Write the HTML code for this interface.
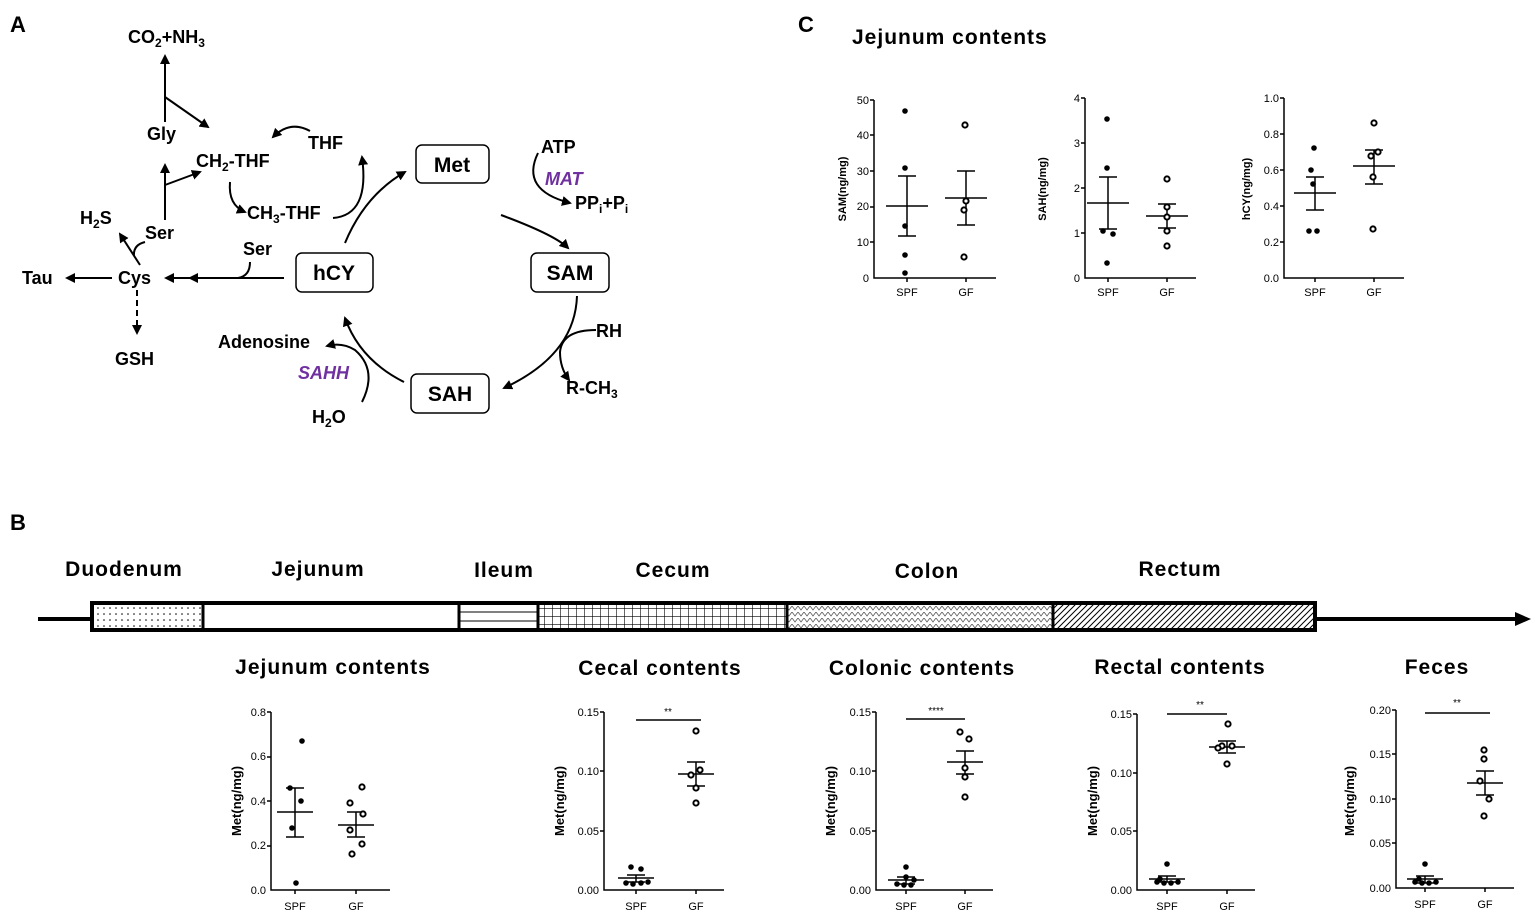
<!DOCTYPE html>
<html><head><meta charset="utf-8"><style>
html,body{margin:0;padding:0;background:#fff;width:1535px;height:913px;overflow:hidden}
svg{display:block;font-family:"Liberation Sans",Arial,sans-serif}
.L{font-weight:bold;font-size:18px}
.T{font-size:11px}
.ax{stroke:#000;stroke-width:1.5;fill:none}
.f{fill:#000}
.o{fill:#fff;stroke:#000;stroke-width:2}
.h{font-weight:bold;font-size:21px;letter-spacing:1px}
.yl{font-weight:bold;font-size:13px}
</style></head><body>
<svg width="1535" height="913" viewBox="0 0 1535 913">
<defs>
<marker id="ah" markerWidth="10" markerHeight="10" refX="8" refY="5" orient="auto" markerUnits="userSpaceOnUse"><path d="M0,0 L10,5 L0,10 z" fill="#000"/></marker>
<pattern id="pd" width="6" height="6" patternUnits="userSpaceOnUse"><circle cx="2" cy="2" r="0.8" fill="#000"/></pattern>
<pattern id="pg" width="8" height="8" patternUnits="userSpaceOnUse"><path d="M0,0 V8 M0,0 H8" stroke="#000" stroke-width="1.2"/></pattern>
<pattern id="px" width="6" height="6" patternUnits="userSpaceOnUse"><path d="M0,0 L3,4 L6,0" stroke="#555" stroke-width="0.8" fill="none"/></pattern>
<pattern id="pl" width="6" height="6" patternUnits="userSpaceOnUse"><path d="M0,6 L6,0 M-1,1 L1,-1 M5,7 L7,5" stroke="#000" stroke-width="1"/></pattern>
</defs>
<g font-weight="bold" font-size="22"><text x="10" y="32">A</text><text x="10" y="530">B</text><text x="798" y="32">C</text></g>

<!-- Panel A -->
<g class="L" fill="#000">
<text x="128" y="43">CO<tspan font-size="12" dy="4">2</tspan><tspan dy="-4">+NH</tspan><tspan font-size="12" dy="4">3</tspan></text>
<text x="147" y="140">Gly</text>
<text x="196" y="167">CH<tspan font-size="12" dy="4">2</tspan><tspan dy="-4">-THF</tspan></text>
<text x="308" y="149">THF</text>
<text x="247" y="219">CH<tspan font-size="12" dy="4">3</tspan><tspan dy="-4">-THF</tspan></text>
<text x="145" y="239">Ser</text>
<text x="80" y="224">H<tspan font-size="12" dy="4">2</tspan><tspan dy="-4">S</tspan></text>
<text x="22" y="284">Tau</text>
<text x="118" y="284">Cys</text>
<text x="115" y="365">GSH</text>
<text x="243" y="255">Ser</text>
<text x="541" y="153">ATP</text>
<text x="545" y="185" fill="#7030a0" font-style="italic">MAT</text>
<text x="575" y="209">PP<tspan font-size="12" dy="4">i</tspan><tspan dy="-4">+P</tspan><tspan font-size="12" dy="4">i</tspan></text>
<text x="596" y="337">RH</text>
<text x="566" y="394">R-CH<tspan font-size="12" dy="4">3</tspan></text>
<text x="218" y="348">Adenosine</text>
<text x="298" y="379" fill="#7030a0" font-style="italic">SAHH</text>
<text x="312" y="423">H<tspan font-size="12" dy="4">2</tspan><tspan dy="-4">O</tspan></text>
</g>
<g fill="#fff" stroke="#000" stroke-width="1.5">
<rect x="416" y="145" width="73" height="38" rx="6"/>
<rect x="531" y="253" width="78" height="39" rx="6"/>
<rect x="296" y="253" width="77" height="39" rx="6"/>
<rect x="411" y="374" width="78" height="39" rx="6"/>
</g>
<g font-weight="bold" font-size="21" text-anchor="middle">
<text x="452" y="172">Met</text><text x="570" y="280">SAM</text><text x="334" y="280">hCY</text><text x="450" y="401">SAH</text>
</g>
<g stroke="#000" stroke-width="2" fill="none">
<path d="M165,122 V56" marker-end="url(#ah)"/>
<path d="M165,97 L208,127" marker-end="url(#ah)"/>
<path d="M165,220 V165" marker-end="url(#ah)"/>
<path d="M165,185 L200,172" marker-end="url(#ah)"/>
<path d="M140,265 L120,234" marker-end="url(#ah)"/>
<path d="M145,242 Q133,245 134,256"/>
<path d="M112,278 H67" marker-end="url(#ah)"/>
<path d="M137,290 V333" stroke-dasharray="6,4" marker-end="url(#ah)"/>
<path d="M284,278 H166" marker-end="url(#ah)"/>
<path d="M200,278 H190" marker-end="url(#ah)"/>
<path d="M250,262 Q250,276 238,278"/>
<path d="M310,131 Q290,120 273,137" marker-end="url(#ah)"/>
<path d="M230,182 Q228,205 245,212" marker-end="url(#ah)"/>
<path d="M333,218 Q370,215 362,157" marker-end="url(#ah)"/>
<path d="M345,243 Q365,195 405,172" marker-end="url(#ah)"/>
<path d="M501,215 Q555,235 568,248" marker-end="url(#ah)"/>
<path d="M538,153 Q520,190 570,203" marker-end="url(#ah)"/>
<path d="M577,296 Q575,355 504,388" marker-end="url(#ah)"/>
<path d="M596,330 Q562,330 560,352 Q560,368 569,380" marker-end="url(#ah)"/>
<path d="M404,382 Q360,360 345,318" marker-end="url(#ah)"/>
<path d="M362,402 Q378,370 355,350 Q342,342 327,346" marker-end="url(#ah)"/>
</g>

<!-- Panel B gut -->
<g class="h" text-anchor="middle">
<text x="124" y="576">Duodenum</text><text x="318" y="576">Jejunum</text><text x="504" y="577">Ileum</text><text x="673" y="577">Cecum</text><text x="927" y="578">Colon</text><text x="1180" y="576">Rectum</text>
</g>
<path d="M38,619 H92 M1315,619 H1518" stroke="#000" stroke-width="4"/>
<path d="M1515,612 L1531,619 L1515,626 z" fill="#000"/>
<rect x="92" y="603" width="111" height="27" fill="url(#pd)"/>
<rect x="459" y="603" width="79" height="27" fill="#fff"/>
<path d="M459,612 H538 M459,621 H538" stroke="#000" stroke-width="1"/>
<rect x="538" y="603" width="249" height="27" fill="url(#pg)"/>
<rect x="787" y="603" width="266" height="27" fill="url(#px)"/>
<rect x="1053" y="603" width="262" height="27" fill="url(#pl)"/>
<rect x="92" y="603" width="1223" height="27" fill="none" stroke="#000" stroke-width="4"/>
<path d="M203,603 V630 M459,603 V630 M538,603 V630 M787,603 V630 M1053,603 V630" stroke="#000" stroke-width="3"/>

<!-- B plot titles -->
<g class="h" text-anchor="middle">
<text x="333" y="674">Jejunum contents</text><text x="660" y="675">Cecal contents</text><text x="922" y="675">Colonic contents</text><text x="1180" y="674">Rectal contents</text><text x="1437" y="674">Feces</text>
</g>
<g class="yl" text-anchor="middle">
<text transform="translate(241,801) rotate(-90)">Met(ng/mg)</text>
<text transform="translate(564,801) rotate(-90)">Met(ng/mg)</text>
<text transform="translate(835,801) rotate(-90)">Met(ng/mg)</text>
<text transform="translate(1097,801) rotate(-90)">Met(ng/mg)</text>
<text transform="translate(1354,801) rotate(-90)">Met(ng/mg)</text>
</g>

<g class="T" text-anchor="end">
<text x="266" y="716">0.8</text><text x="266" y="760">0.6</text><text x="266" y="805">0.4</text><text x="266" y="849">0.2</text><text x="266" y="894">0.0</text>
<text x="599" y="716">0.15</text><text x="599" y="775">0.10</text><text x="599" y="835">0.05</text><text x="599" y="894">0.00</text>
<text x="871" y="716">0.15</text><text x="871" y="775">0.10</text><text x="871" y="835">0.05</text><text x="871" y="894">0.00</text>
<text x="1132" y="718">0.15</text><text x="1132" y="777">0.10</text><text x="1132" y="835">0.05</text><text x="1132" y="894">0.00</text>
<text x="1391" y="714">0.20</text><text x="1391" y="758">0.15</text><text x="1391" y="803">0.10</text><text x="1391" y="847">0.05</text><text x="1391" y="892">0.00</text>
</g>
<g class="T" text-anchor="middle">
<text x="295" y="910">SPF</text><text x="356" y="910">GF</text>
<text x="636" y="910">SPF</text><text x="696" y="910">GF</text>
<text x="906" y="910">SPF</text><text x="965" y="910">GF</text>
<text x="1167" y="910">SPF</text><text x="1227" y="910">GF</text>
<text x="1425" y="908">SPF</text><text x="1485" y="908">GF</text>
</g>
<g class="ax">
<path d="M271,712 V890 H390 M267,712 H271 M267,757 H271 M267,801 H271 M267,846 H271 M295,890 V894 M356,890 V894"/>
<path d="M604,712 V890 H724 M600,712 H604 M600,771 H604 M600,831 H604 M636,890 V894 M696,890 V894"/>
<path d="M876,712 V890 H993 M872,712 H876 M872,771 H876 M872,831 H876 M906,890 V894 M965,890 V894"/>
<path d="M1137,714 V890 H1255 M1133,714 H1137 M1133,773 H1137 M1133,831 H1137 M1167,890 V894 M1227,890 V894"/>
<path d="M1396,710 V888 H1514 M1392,710 H1396 M1392,754 H1396 M1392,799 H1396 M1392,843 H1396 M1425,888 V892 M1485,888 V892"/>
</g>
<g stroke="#000" stroke-width="1.5" fill="none">
<path d="M277,812 H313 M295,788 V837 M286,788 H304 M286,837 H304"/>
<path d="M338,825 H374 M356,812 V837 M347,812 H365 M347,837 H365"/>
<path d="M618,878 H654 M636,875 V882 M627,875 H645 M627,882 H645"/>
<path d="M678,774 H714 M696,762 V786 M687,762 H705 M687,786 H705"/>
<path d="M888,880 H924 M906,877 V884 M897,877 H915 M897,884 H915"/>
<path d="M947,762 H983 M965,751 V774 M956,751 H974 M956,774 H974"/>
<path d="M1149,879 H1185 M1167,876 V882 M1158,876 H1176 M1158,882 H1176"/>
<path d="M1209,747 H1245 M1227,741 V753 M1218,741 H1236 M1218,753 H1236"/>
<path d="M1407,879 H1443 M1425,876 V883 M1416,876 H1434 M1416,883 H1434"/>
<path d="M1467,783 H1503 M1485,771 V795 M1476,771 H1494 M1476,795 H1494"/>
<path d="M636,720 H701 M906,719 H965 M1167,714 H1227 M1425,713 H1490"/>
</g>
<g font-size="10" text-anchor="middle"><text x="668" y="715">**</text><text x="936" y="714">****</text><text x="1200" y="708">**</text><text x="1457" y="706">**</text></g>
<g class="f">
<circle cx="302" cy="741" r="2.8"/><circle cx="290" cy="788" r="2.8"/><circle cx="301" cy="801" r="2.8"/><circle cx="292" cy="828" r="2.8"/><circle cx="296" cy="883" r="2.8"/>
<circle cx="631" cy="867" r="2.8"/><circle cx="641" cy="869" r="2.8"/><circle cx="626" cy="883" r="2.8"/><circle cx="633" cy="884" r="2.8"/><circle cx="641" cy="883" r="2.8"/><circle cx="648" cy="882" r="2.8"/>
<circle cx="906" cy="867" r="2.8"/><circle cx="906" cy="877" r="2.8"/><circle cx="914" cy="880" r="2.8"/><circle cx="897" cy="884" r="2.8"/><circle cx="904" cy="885" r="2.8"/><circle cx="911" cy="885" r="2.8"/>
<circle cx="1167" cy="864" r="2.8"/><circle cx="1157" cy="882" r="2.8"/><circle cx="1164" cy="883" r="2.8"/><circle cx="1171" cy="883" r="2.8"/><circle cx="1178" cy="882" r="2.8"/><circle cx="1160" cy="879" r="2.8"/>
<circle cx="1425" cy="864" r="2.8"/><circle cx="1415" cy="882" r="2.8"/><circle cx="1422" cy="883" r="2.8"/><circle cx="1429" cy="883" r="2.8"/><circle cx="1436" cy="882" r="2.8"/><circle cx="1419" cy="879" r="2.8"/>
</g>
<g class="o">
<circle cx="362" cy="787" r="2.6"/><circle cx="350" cy="803" r="2.6"/><circle cx="363" cy="814" r="2.6"/><circle cx="350" cy="830" r="2.6"/><circle cx="362" cy="844" r="2.6"/><circle cx="352" cy="854" r="2.6"/>
<circle cx="696" cy="731" r="2.6"/><circle cx="700" cy="770" r="2.6"/><circle cx="691" cy="775" r="2.6"/><circle cx="696" cy="788" r="2.6"/><circle cx="696" cy="803" r="2.6"/>
<circle cx="960" cy="732" r="2.6"/><circle cx="969" cy="739" r="2.6"/><circle cx="965" cy="768" r="2.6"/><circle cx="965" cy="777" r="2.6"/><circle cx="965" cy="797" r="2.6"/>
<circle cx="1228" cy="724" r="2.6"/><circle cx="1222" cy="746" r="2.6"/><circle cx="1232" cy="746" r="2.6"/><circle cx="1218" cy="748" r="2.6"/><circle cx="1227" cy="764" r="2.6"/>
<circle cx="1484" cy="750" r="2.6"/><circle cx="1484" cy="759" r="2.6"/><circle cx="1480" cy="781" r="2.6"/><circle cx="1489" cy="799" r="2.6"/><circle cx="1484" cy="816" r="2.6"/>
</g>

<!-- Panel C -->
<text x="852" y="44" class="h">Jejunum contents</text>
<g font-size="11" font-weight="bold" text-anchor="middle">
<text transform="translate(846,189) rotate(-90)">SAM(ng/mg)</text>
<text transform="translate(1046,189) rotate(-90)">SAH(ng/mg)</text>
<text transform="translate(1250,189) rotate(-90)">hCY(ng/mg)</text>
</g>
<g class="T" text-anchor="end">
<text x="869" y="104">50</text><text x="869" y="139">40</text><text x="869" y="175">30</text><text x="869" y="210">20</text><text x="869" y="246">10</text><text x="869" y="282">0</text>
<text x="1080" y="102">4</text><text x="1080" y="147">3</text><text x="1080" y="192">2</text><text x="1080" y="237">1</text><text x="1080" y="282">0</text>
<text x="1279" y="102">1.0</text><text x="1279" y="138">0.8</text><text x="1279" y="174">0.6</text><text x="1279" y="210">0.4</text><text x="1279" y="246">0.2</text><text x="1279" y="282">0.0</text>
</g>
<g class="T" text-anchor="middle">
<text x="907" y="296">SPF</text><text x="966" y="296">GF</text>
<text x="1108" y="296">SPF</text><text x="1167" y="296">GF</text>
<text x="1315" y="296">SPF</text><text x="1374" y="296">GF</text>
</g>
<g class="ax">
<path d="M874,100 V278 H996 M870,100 H874 M870,135 H874 M870,171 H874 M870,207 H874 M870,242 H874 M907,278 V282 M966,278 V282"/>
<path d="M1085,98 V278 H1196 M1081,98 H1085 M1081,143 H1085 M1081,188 H1085 M1081,233 H1085 M1108,278 V282 M1167,278 V282"/>
<path d="M1284,98 V278 H1404 M1280,98 H1284 M1280,134 H1284 M1280,170 H1284 M1280,206 H1284 M1280,242 H1284 M1315,278 V282 M1374,278 V282"/>
</g>
<g stroke="#000" stroke-width="1.5" fill="none">
<path d="M886,206 H928 M907,176 V236 M898,176 H916 M898,236 H916"/>
<path d="M945,198 H987 M966,171 V225 M957,171 H975 M957,225 H975"/>
<path d="M1087,203 H1129 M1108,177 V229 M1099,177 H1117 M1099,229 H1117"/>
<path d="M1146,216 H1188 M1167,204 V228 M1158,204 H1176 M1158,228 H1176"/>
<path d="M1294,193 H1336 M1315,177 V210 M1306,177 H1324 M1306,210 H1324"/>
<path d="M1353,166 H1395 M1374,150 V184 M1365,150 H1383 M1365,184 H1383"/>
</g>
<g class="f">
<circle cx="905" cy="111" r="2.8"/><circle cx="905" cy="168" r="2.8"/><circle cx="905" cy="226" r="2.8"/><circle cx="905" cy="255" r="2.8"/><circle cx="905" cy="273" r="2.8"/>
<circle cx="1107" cy="119" r="2.8"/><circle cx="1107" cy="168" r="2.8"/><circle cx="1103" cy="231" r="2.8"/><circle cx="1113" cy="234" r="2.8"/><circle cx="1107" cy="263" r="2.8"/>
<circle cx="1314" cy="148" r="2.8"/><circle cx="1311" cy="170" r="2.8"/><circle cx="1313" cy="184" r="2.8"/><circle cx="1309" cy="231" r="2.8"/><circle cx="1317" cy="231" r="2.8"/>
</g>
<g class="o">
<circle cx="965" cy="125" r="2.6"/><circle cx="966" cy="201" r="2.6"/><circle cx="964" cy="210" r="2.6"/><circle cx="964" cy="257" r="2.6"/>
<circle cx="1167" cy="179" r="2.6"/><circle cx="1167" cy="207" r="2.6"/><circle cx="1167" cy="217" r="2.6"/><circle cx="1167" cy="231" r="2.6"/><circle cx="1167" cy="246" r="2.6"/>
<circle cx="1374" cy="123" r="2.6"/><circle cx="1378" cy="152" r="2.6"/><circle cx="1371" cy="156" r="2.6"/><circle cx="1373" cy="177" r="2.6"/><circle cx="1373" cy="229" r="2.6"/>
</g>
</svg>
</body></html>
